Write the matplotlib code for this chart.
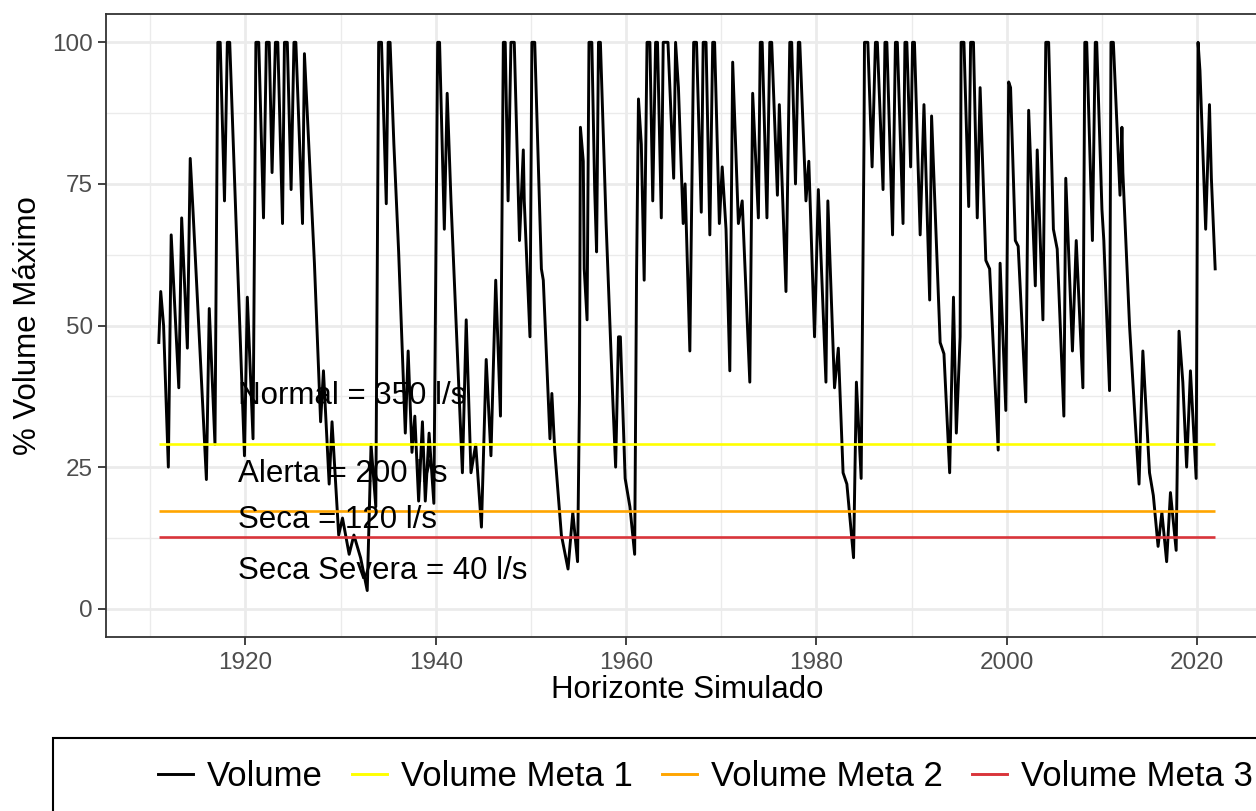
import matplotlib.pyplot as plt
from matplotlib.lines import Line2D
from matplotlib.patches import Rectangle

# simulated reservoir volume (% of max) at turning points
anos = [
    1910.9, 1911.1, 1911.4, 1911.9, 1912.2, 1913.0, 1913.3, 1913.9, 1914.2, 1914.5,
    1915.9, 1916.2, 1916.8, 1917.1, 1917.35, 1917.8, 1918.1, 1918.35, 1919.0, 1919.9,
    1920.2, 1920.8, 1921.1, 1921.4, 1921.9, 1922.2, 1922.5, 1922.8, 1923.15, 1923.4,
    1923.9, 1924.1, 1924.4, 1924.8, 1925.1, 1925.3, 1926.0, 1926.2, 1927.1, 1927.25,
    1927.9, 1928.2, 1928.8, 1929.1, 1929.8, 1930.2, 1930.9, 1931.4, 1932.1, 1932.8,
    1933.2, 1933.7, 1934.0, 1934.3, 1934.8, 1935.0, 1935.2, 1935.6, 1936.1, 1936.8,
    1937.1, 1937.5, 1937.8, 1938.2, 1938.6, 1938.9, 1939.3, 1939.8, 1940.2, 1940.4,
    1940.9, 1941.2, 1941.6, 1942.3, 1942.8, 1943.2, 1943.7, 1944.2, 1944.8, 1945.3,
    1945.8, 1946.3, 1946.8, 1947.1, 1947.3, 1947.6, 1947.9, 1948.25, 1948.8, 1949.2,
    1949.3, 1949.9, 1950.1, 1950.4, 1951.1, 1951.3, 1951.8, 1952.0, 1952.2, 1952.5,
    1953.2, 1953.9, 1954.4, 1954.9, 1955.1, 1955.2, 1955.5, 1955.6, 1955.9, 1956.1,
    1956.4, 1956.7, 1956.9, 1957.1, 1957.3, 1957.9, 1958.6, 1958.9, 1959.2, 1959.4,
    1959.9, 1960.4, 1960.9, 1961.1, 1961.3, 1961.6, 1961.9, 1962.2, 1962.5, 1962.8,
    1963.1, 1963.3, 1963.7, 1963.9, 1964.4, 1965.0, 1965.2, 1965.5, 1966.0, 1966.2,
    1966.7, 1967.1, 1967.4, 1967.9, 1968.1, 1968.4, 1968.8, 1969.1, 1969.3, 1969.8,
    1970.1, 1970.5, 1970.9, 1971.2, 1971.8, 1972.2, 1973.0, 1973.3, 1973.9, 1974.1,
    1974.3, 1974.8, 1975.1, 1975.3, 1975.9, 1976.1, 1976.8, 1977.2, 1977.4, 1977.8,
    1978.1, 1978.25, 1978.9, 1979.2, 1979.8, 1980.2, 1981.0, 1981.2, 1981.9, 1982.3,
    1982.8, 1983.2, 1983.9, 1984.2, 1984.7, 1985.0, 1985.05, 1985.4, 1985.85, 1986.2,
    1986.4, 1987.0, 1987.2, 1987.4, 1988.0, 1988.3, 1988.5, 1989.1, 1989.3, 1989.5,
    1989.9, 1990.1, 1990.3, 1990.9, 1991.3, 1991.6, 1991.9, 1992.1, 1992.5, 1993.0,
    1993.4, 1994.0, 1994.4, 1994.7, 1995.1, 1995.2, 1995.5, 1996.0, 1996.2, 1996.5,
    1996.9, 1997.2, 1997.8, 1998.2, 1998.9, 1999.1, 1999.3, 1999.9, 2000.2, 2000.4,
    2000.9, 2001.2, 2002.0, 2002.3, 2003.0, 2003.2, 2003.8, 2004.1, 2004.4, 2004.9,
    2005.3, 2006.0, 2006.2, 2006.9, 2007.3, 2008.0, 2008.2, 2008.4, 2009.0, 2009.3,
    2009.45, 2010.0, 2010.2, 2010.8, 2010.95, 2011.2, 2011.9, 2012.1, 2012.2, 2012.9,
    2013.5, 2013.9, 2014.3, 2015.0, 2015.4, 2015.9, 2016.3, 2016.8, 2017.2, 2017.8,
    2018.1, 2018.5, 2018.9, 2019.3, 2019.9, 2020.1, 2020.3, 2020.9, 2021.3, 2021.5,
    2021.9,
]
volume = [
    47, 56, 50, 25, 66, 39, 69, 46, 79.5, 70,
    22.8, 53, 29, 100, 100, 72, 100, 100, 69, 27,
    55, 30, 100, 100, 69, 100, 100, 77, 100, 100,
    68, 100, 100, 74, 100, 100, 68, 98, 66, 61,
    33, 42, 22, 33, 13, 16, 9.6, 13, 9, 3.2,
    29, 18, 100, 100, 71.5, 100, 100, 82, 63, 31,
    45.5, 27.6, 34, 19, 33, 19, 31, 18.6, 100, 100,
    67, 91, 72, 44, 24, 51, 24, 29, 14.4, 44,
    27, 58, 34, 100, 100, 72, 100, 100, 65, 81,
    72, 48, 100, 100, 60, 58, 38, 30, 38, 28,
    13, 7, 17, 8.3, 37, 85, 79, 60, 51, 100,
    100, 74, 63, 100, 100, 68, 37, 25, 48, 48,
    23, 18, 9.6, 59, 90, 82, 58, 100, 100, 72,
    100, 100, 69, 100, 100, 76, 100, 92, 68, 75,
    45.5, 100, 100, 70, 100, 100, 66, 100, 100, 68,
    78, 67, 42, 96.5, 68, 72, 40, 91, 69, 100,
    100, 69, 100, 100, 73, 89, 56, 100, 100, 75,
    100, 100, 72, 79, 48, 74, 40, 72, 39, 46,
    24, 22, 9, 40, 23, 83, 100, 100, 78, 100,
    100, 74, 100, 100, 66, 100, 100, 68, 100, 100,
    78, 100, 100, 66, 89, 72, 54.5, 87, 69, 47,
    45, 24, 55, 31, 48, 100, 100, 71, 100, 100,
    69, 92, 61.5, 60, 35, 28, 61, 35, 93, 92,
    65, 64, 36.5, 88, 57, 81, 51, 100, 100, 67,
    63.5, 34, 76, 45.5, 65, 39, 100, 100, 65, 100,
    100, 70.5, 65, 38.5, 100, 100, 73, 85, 77, 50,
    33, 22, 45.5, 24, 20, 11, 17, 8.3, 20.5, 10.3,
    49, 40, 25, 42, 23, 100, 95, 67, 89, 76,
    60,
]

metas = [29.0, 17.3, 12.7]
meta_cores = ['#ffff00', '#ffa500', '#d9343a']
serie_nomes = ['Volume', 'Volume Meta 1', 'Volume Meta 2', 'Volume Meta 3']

rotulos = ['Normal = 350 l/s', 'Alerta = 200 l/s', 'Seca = 120 l/s', 'Seca Severa = 40 l/s']
rotulos_y = [37.5, 23.7, 15.7, 6.7]
rotulo_x = 1919.2

plt.rcParams['font.family'] = ['Liberation Sans', 'DejaVu Sans']

W, H = 1256, 811
fig = plt.figure(figsize=(W / 100, H / 100), dpi=100)
ax = fig.add_axes([106 / W, (H - 637) / H, (1268 - 106) / W, (637 - 14) / H])

ax.plot(anos, volume, color='black', lw=2.1, zorder=3)
for m, c in zip(metas, meta_cores):
    ax.hlines(m, anos[0], anos[-1], color=c, lw=1.9, zorder=4)

for txt, yy in zip(rotulos, rotulos_y):
    ax.text(rotulo_x, yy, txt, fontsize=22.5, ha='left', va='center', color='black', zorder=5)

# ggplot-like expansion of 5%
xpad = 0.05 * (max(anos) - min(anos))
ax.set_xlim(min(anos) - xpad, max(anos) + xpad)
ax.set_ylim(-5, 105)

ax.set_xticks([1920, 1940, 1960, 1980, 2000, 2020])
ax.set_xticks([1910, 1930, 1950, 1970, 1990, 2010], minor=True)
ax.set_yticks([0, 25, 50, 75, 100])
ax.set_yticks([12.5, 37.5, 62.5, 87.5], minor=True)
ax.grid(which='major', color='#ebebeb', lw=2.0, zorder=0)
ax.grid(which='minor', color='#ebebeb', lw=1.0, zorder=0)
ax.set_axisbelow(True)
ax.tick_params(which='major', length=6, width=1.3, color='#333333',
               labelsize=17.5, labelcolor='#4d4d4d', pad=5)
ax.tick_params(axis='y', which='major', pad=3.5)
ax.tick_params(which='minor', length=0)
for s in ax.spines.values():
    s.set_color('#333333')
    s.set_linewidth(1.3)

ax.set_xlabel('Horizonte Simulado', fontsize=22.5)
ax.set_ylabel('% Volume Máximo', fontsize=22.5)
ax.xaxis.set_label_coords(0.5, -(690 - 637) / 623)
ax.xaxis.label.set_va('center')
ax.yaxis.set_label_coords(-(106 - 28) / 1162, 0.5)
ax.yaxis.label.set_va('center')

# legend at the bottom, box partly outside the picture
handles = [Line2D([], [], color='black', lw=2.1)] + \
          [Line2D([], [], color=c, lw=2.1) for c in meta_cores]
fig.legend(handles, serie_nomes, ncol=4, loc='center left',
           bbox_to_anchor=(158 / W, (H - 777) / H), bbox_transform=fig.transFigure,
           frameon=False, fontsize=25, handlelength=1.0, handletextpad=0.4,
           columnspacing=0.85, borderpad=0, borderaxespad=0)
fig.patches.append(Rectangle((53 / W, (H - 820) / H), (1400 - 53) / W, 82 / H,
                             transform=fig.transFigure, fill=False,
                             edgecolor='black', lw=1.5))

fig.savefig('out.png', dpi=100)
